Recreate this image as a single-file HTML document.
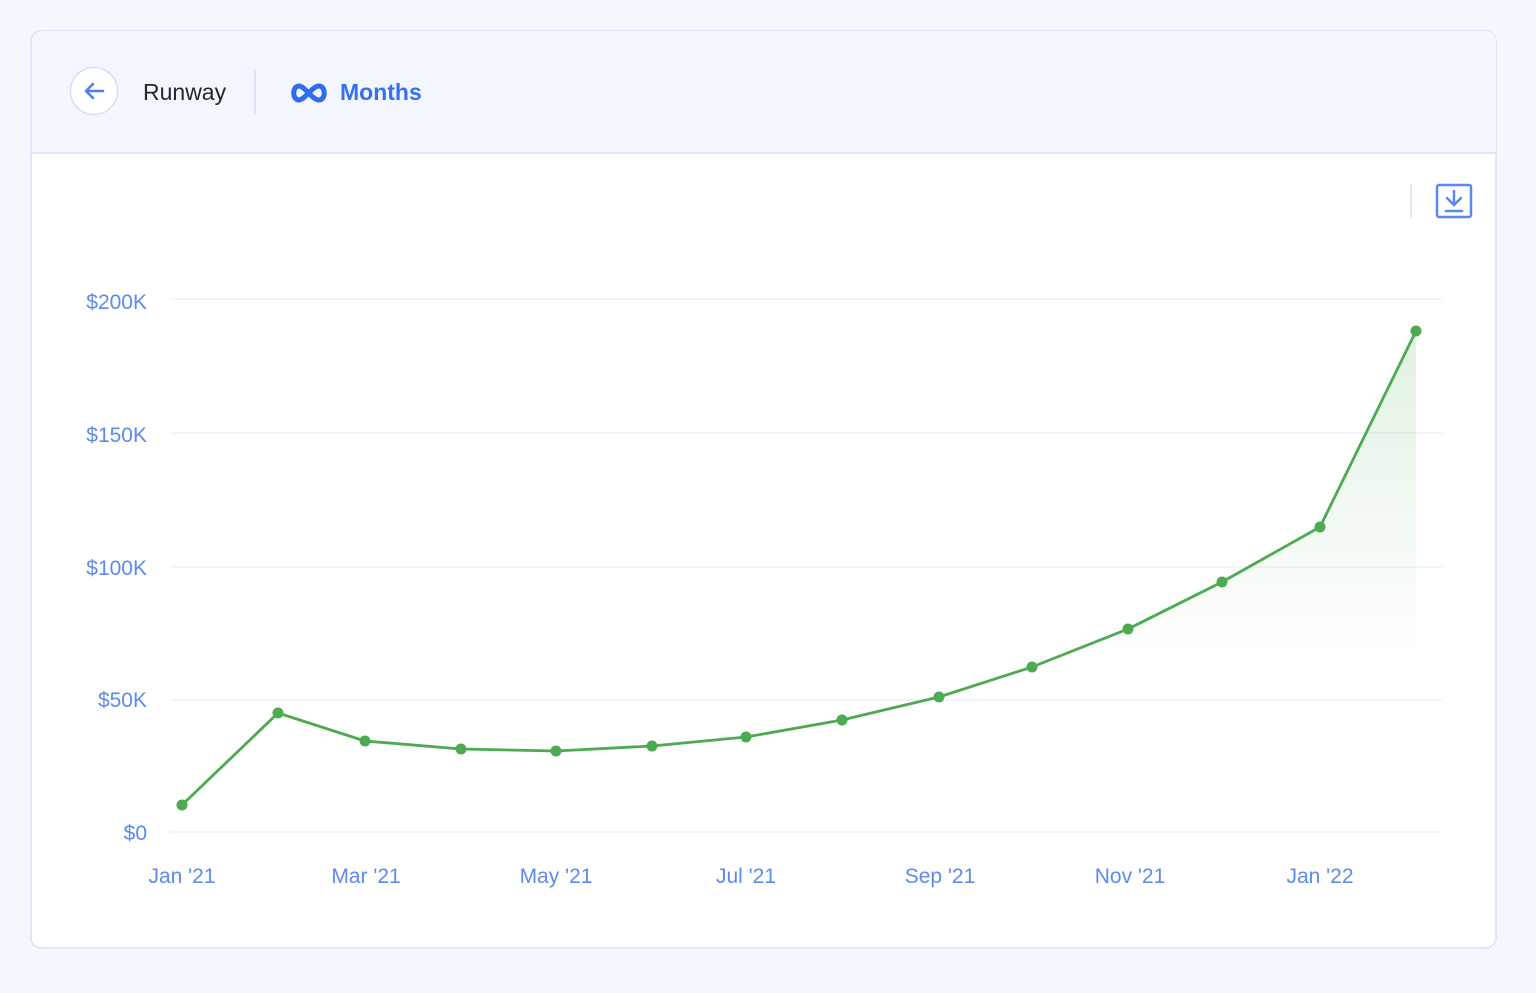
<!DOCTYPE html>
<html><head><meta charset="utf-8"><style>
body{margin:0;width:1536px;height:993px;background:#f5f7fe;font-family:"Liberation Sans",sans-serif;overflow:hidden}
</style></head><body>
<svg width="1536" height="993" viewBox="0 0 1536 993" xmlns="http://www.w3.org/2000/svg" style="position:absolute;left:0;top:0">
<defs>
<linearGradient id="g" gradientUnits="userSpaceOnUse" x1="0" y1="331" x2="0" y2="660">
<stop offset="0" stop-color="#4caf50" stop-opacity="0.17"/>
<stop offset="1" stop-color="#4caf50" stop-opacity="0"/>
</linearGradient>
</defs>
<rect x="31" y="31" width="1465" height="917" rx="10" fill="#fff" stroke="#d6e0fb" stroke-width="1.5"/>
<path d="M31.75 153 V41 a10 10 0 0 1 10 -10 H1486 a10 10 0 0 1 10 10 V153 Z" fill="#f3f6fe"/>
<line x1="31" y1="153" x2="1496" y2="153" stroke="#d2ddfa" stroke-width="1.5"/>
<circle cx="94" cy="91" r="23.5" fill="#fff" stroke="#d4defa" stroke-width="1.5"/>
<path d="M103 91 H86 M93 84 L86 91 L93 98" fill="none" stroke="#4f7ff0" stroke-width="2.6" stroke-linecap="round" stroke-linejoin="round"/>
<text x="143" y="100" font-size="23" fill="#24262e">Runway</text>
<line x1="255" y1="69" x2="255" y2="115" stroke="#d4defa" stroke-width="1.5"/>
<path d="M299 86 C292 86 292 100 299 100 C305 100 312 86 319 86 C326 86 326 100 319 100 C312 100 305 86 299 86 Z" fill="none" stroke="#2f6cf0" stroke-width="5"/>
<text x="340" y="100" font-size="23" font-weight="bold" fill="#3570f2">Months</text>
<line x1="1411" y1="184" x2="1411" y2="218" stroke="#d8e1fb" stroke-width="1.5"/>
<rect x="1437" y="185" width="34" height="32" rx="2" fill="none" stroke="#5b87f2" stroke-width="2.5"/>
<path d="M1454 191 V204 M1447 198 L1454 205 L1461 198 M1446 211 H1462" fill="none" stroke="#5b87f2" stroke-width="2.5" stroke-linecap="round"/>
<g stroke="#edf1fc" stroke-width="1.5">
<line x1="170" y1="299" x2="1442" y2="299"/><line x1="170" y1="433" x2="1442" y2="433"/><line x1="170" y1="567" x2="1442" y2="567"/><line x1="170" y1="700" x2="1442" y2="700"/><line x1="170" y1="832" x2="1442" y2="832"/>
</g>
<g font-size="21" fill="#5b8af3" text-anchor="end">
<text x="147" y="309">$200K</text><text x="147" y="442">$150K</text><text x="147" y="575">$100K</text><text x="147" y="707">$50K</text><text x="147" y="840">$0</text>
</g>
<g font-size="21" fill="#5b8af3" text-anchor="middle">
<text x="182" y="883">Jan '21</text><text x="366" y="883">Mar '21</text><text x="556" y="883">May '21</text><text x="746" y="883">Jul '21</text><text x="940" y="883">Sep '21</text><text x="1130" y="883">Nov '21</text><text x="1320" y="883">Jan '22</text>
</g>
<polygon fill="url(#g)" points="182,805 278,713 365,741 461,749 556,751 652,746 746,737 842,720 939,697 1032,667 1128,629 1222,582 1320,527 1416,331 1416,832 182,832"/>
<polyline fill="none" stroke="#4caa50" stroke-width="2.8" stroke-linejoin="round" points="182,805 278,713 365,741 461,749 556,751 652,746 746,737 842,720 939,697 1032,667 1128,629 1222,582 1320,527 1416,331"/>
<g fill="#4caa50">
<circle cx="182" cy="805" r="5.5"/><circle cx="278" cy="713" r="5.5"/><circle cx="365" cy="741" r="5.5"/><circle cx="461" cy="749" r="5.5"/><circle cx="556" cy="751" r="5.5"/><circle cx="652" cy="746" r="5.5"/><circle cx="746" cy="737" r="5.5"/><circle cx="842" cy="720" r="5.5"/><circle cx="939" cy="697" r="5.5"/><circle cx="1032" cy="667" r="5.5"/><circle cx="1128" cy="629" r="5.5"/><circle cx="1222" cy="582" r="5.5"/><circle cx="1320" cy="527" r="5.5"/><circle cx="1416" cy="331" r="5.5"/>
</g>
</svg>
</body></html>
